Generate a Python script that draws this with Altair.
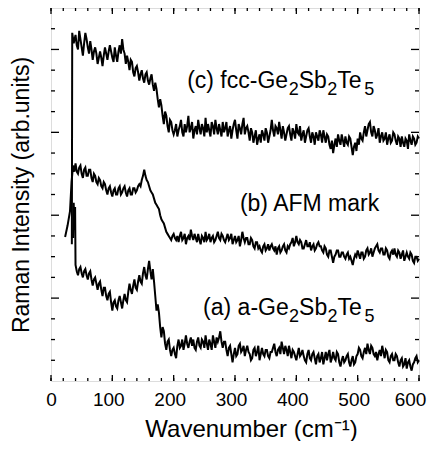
import altair as alt
import pandas as pd

# Shared wavenumber grid (cm-1), 2 cm-1 steps
wn_grid = [40, 42, 44, 46, 48, 50, 52, 54, 56, 58, 60, 62, 64, 66, 68, 70, 72, 74, 76, 78,
           80, 82, 84, 86, 88, 90, 92, 94, 96, 98, 100, 102, 104, 106, 108, 110, 112, 114, 116, 118,
           120, 122, 124, 126, 128, 130, 132, 134, 136, 138, 140, 142, 144, 146, 148, 150, 152, 154, 156, 158,
           160, 162, 164, 166, 168, 170, 172, 174, 176, 178, 180, 182, 184, 186, 188, 190, 192, 194, 196, 198,
           200, 202, 204, 206, 208, 210, 212, 214, 216, 218, 220, 222, 224, 226, 228, 230, 232, 234, 236, 238,
           240, 242, 244, 246, 248, 250, 252, 254, 256, 258, 260, 262, 264, 266, 268, 270, 272, 274, 276, 278,
           280, 282, 284, 286, 288, 290, 292, 294, 296, 298, 300, 302, 304, 306, 308, 310, 312, 314, 316, 318,
           320, 322, 324, 326, 328, 330, 332, 334, 336, 338, 340, 342, 344, 346, 348, 350, 352, 354, 356, 358,
           360, 362, 364, 366, 368, 370, 372, 374, 376, 378, 380, 382, 384, 386, 388, 390, 392, 394, 396, 398,
           400, 402, 404, 406, 408, 410, 412, 414, 416, 418, 420, 422, 424, 426, 428, 430, 432, 434, 436, 438,
           440, 442, 444, 446, 448, 450, 452, 454, 456, 458, 460, 462, 464, 466, 468, 470, 472, 474, 476, 478,
           480, 482, 484, 486, 488, 490, 492, 494, 496, 498, 500, 502, 504, 506, 508, 510, 512, 514, 516, 518,
           520, 522, 524, 526, 528, 530, 532, 534, 536, 538, 540, 542, 544, 546, 548, 550, 552, 554, 556, 558,
           560, 562, 564, 566, 568, 570, 572, 574, 576, 578, 580, 582, 584, 586, 588, 590, 592, 594, 596, 598,
           600]

# (c) fcc-Ge2Sb2Te5 (offset trace, arb. units)
c_head_x = [34, 34.6, 37]
c_head_y = [6.6, 16.8, 16.3]
c_vals = [16.7, 16.2, 16.0, 16.9, 16.5, 16.1, 15.7, 16.3, 16.8, 16.5, 16.1, 15.8, 16.4, 16.0, 15.5, 15.9, 16.1, 15.8, 15.3, 15.6,
          15.9, 15.6, 15.2, 15.7, 16.1, 15.8, 15.5, 15.9, 16.2, 15.9, 15.6, 15.4, 16.1, 15.7, 15.4, 15.9, 16.2, 15.8, 16.5, 16.0,
          15.8, 15.3, 15.7, 15.4, 15.0, 15.5, 15.4, 14.9, 14.7, 15.1, 15.2, 14.9, 14.5, 14.8, 15.0, 14.6, 14.4, 14.8, 14.9, 14.5,
          14.3, 14.6, 14.8, 14.3, 14.0, 14.4, 14.1, 13.6, 13.2, 13.6, 13.3, 12.8, 12.4, 13.0, 12.8, 12.3, 12.0, 12.6, 12.5, 12.1,
          11.9, 12.1, 12.4, 11.8, 12.1, 12.3, 12.6, 12.0, 11.8, 12.4, 12.0, 12.3, 12.8, 12.0, 12.2, 12.5, 11.7, 12.1, 12.3, 11.9,
          12.6, 12.2, 11.9, 12.4, 12.2, 11.8, 12.7, 12.0, 12.4, 12.1, 11.8, 12.5, 12.3, 11.9, 12.6, 12.2, 11.9, 12.4, 12.1, 11.8,
          12.5, 12.0, 12.2, 12.5, 11.8, 12.1, 12.3, 11.7, 12.1, 12.4, 12.6, 12.1, 11.7, 12.4, 12.2, 11.9, 12.4, 12.7, 11.9, 12.2,
          12.3, 12.0, 11.6, 12.2, 12.0, 11.5, 11.8, 12.1, 11.4, 11.7, 11.9, 11.5, 12.1, 11.9, 11.6, 12.2, 12.0, 11.5, 11.8, 12.1,
          12.6, 12.1, 11.8, 12.3, 12.2, 11.9, 12.5, 12.1, 11.7, 12.3, 12.0, 11.6, 11.9, 12.2, 12.3, 11.9, 11.6, 12.2, 12.0, 11.7,
          12.4, 12.0, 11.9, 12.3, 11.6, 11.9, 12.1, 11.5, 11.8, 12.1, 12.2, 11.8, 11.5, 12.0, 11.8, 11.4, 12.0, 11.8, 11.6, 12.1,
          11.9, 11.5, 12.1, 11.8, 11.5, 11.9, 11.8, 11.4, 11.2, 11.6, 11.0, 11.4, 11.7, 11.3, 11.9, 11.6, 11.4, 11.9, 11.6, 11.3,
          11.8, 11.5, 11.4, 11.8, 11.7, 11.3, 10.9, 11.3, 11.5, 11.1, 11.7, 11.4, 12.0, 11.7, 11.6, 12.0, 12.3, 11.8, 12.1, 12.4,
          12.5, 12.0, 11.8, 12.3, 12.1, 11.7, 11.9, 12.2, 11.5, 11.8, 12.0, 11.6, 11.7, 12.0, 11.4, 11.7, 11.9, 11.5, 11.6, 12.0,
          11.9, 11.6, 11.4, 11.8, 11.7, 11.3, 11.8, 11.5, 11.3, 11.7, 11.6, 11.2, 11.9, 11.6, 11.4, 11.8, 11.7, 11.4, 11.5, 11.8,
          11.7]

# (b) AFM mark
b_head_x = [23, 27, 31, 33.5, 36, 38]
b_head_y = [6.95, 7.5, 8.2, 9.6, 10.4, 10.1]
b_vals = [10.5, 10.1, 10.0, 10.3, 10.4, 10.0, 9.8, 10.2, 10.3, 9.9, 9.9, 10.2, 10.2, 9.8, 9.6, 10.0, 9.9, 9.6, 9.5, 9.8,
          9.7, 9.4, 9.3, 9.6, 9.5, 9.2, 9.0, 9.3, 9.4, 9.1, 8.9, 9.2, 9.3, 9.0, 9.0, 9.3, 9.4, 9.0, 9.1, 9.3,
          9.4, 9.1, 8.9, 9.2, 9.3, 9.0, 9.0, 9.3, 9.3, 9.1, 9.2, 9.4, 9.5, 9.4, 9.7, 9.9, 10.2, 9.9, 9.7, 9.6,
          9.4, 9.2, 9.1, 9.0, 8.8, 8.6, 8.5, 8.4, 8.3, 8.0, 7.8, 7.7, 7.6, 7.4, 7.2, 7.1, 7.0, 6.9, 6.8, 7.0,
          7.1, 6.9, 6.8, 7.0, 6.7, 7.0, 7.2, 6.8, 6.9, 7.1, 6.6, 6.9, 7.0, 6.8, 7.3, 7.0, 6.8, 7.1, 6.9, 6.7,
          7.1, 6.8, 6.6, 7.0, 6.9, 6.7, 7.2, 6.8, 6.9, 7.1, 6.7, 6.9, 7.0, 6.7, 6.8, 7.0, 7.2, 6.9, 6.8, 7.1,
          7.0, 6.8, 6.7, 6.9, 7.1, 6.8, 6.9, 7.1, 6.6, 6.8, 7.0, 6.7, 6.8, 7.0, 6.5, 6.8, 7.2, 6.9, 6.7, 6.9,
          6.9, 6.6, 6.6, 6.9, 6.8, 6.5, 6.4, 6.7, 6.7, 6.4, 6.5, 6.3, 6.2, 6.5, 6.6, 6.3, 6.4, 6.6, 6.3, 6.5,
          6.6, 6.4, 6.3, 6.5, 6.1, 6.4, 6.5, 6.2, 6.3, 6.5, 6.6, 6.3, 6.2, 6.5, 6.4, 6.6, 6.7, 6.9, 6.5, 6.7,
          7.0, 6.7, 6.6, 6.8, 6.7, 6.4, 6.4, 6.6, 6.8, 6.5, 6.5, 6.7, 6.3, 6.5, 6.6, 6.3, 6.4, 6.6, 6.7, 6.5,
          6.5, 6.3, 6.2, 6.5, 6.4, 6.1, 6.0, 6.3, 6.3, 6.0, 5.7, 6.0, 6.1, 6.3, 6.3, 6.0, 6.0, 6.2, 6.2, 6.0,
          5.9, 6.1, 6.2, 5.9, 6.0, 5.8, 5.6, 5.9, 6.1, 6.0, 6.3, 6.1, 5.9, 6.2, 6.2, 5.9, 6.0, 6.3, 6.4, 6.1,
          6.2, 6.4, 6.0, 6.2, 6.4, 6.5, 6.6, 6.3, 6.2, 6.4, 6.4, 6.1, 6.1, 6.4, 6.3, 6.0, 5.9, 6.2, 6.3, 6.1,
          6.4, 6.1, 6.0, 6.3, 6.2, 5.9, 6.1, 6.3, 5.8, 6.0, 6.2, 6.0, 5.9, 6.2, 6.1, 5.8, 5.7, 6.0, 6.0, 5.8,
          5.9]

# (a) a-Ge2Sb2Te5
a_head_x = [36, 37, 38.3, 39.3]
a_head_y = [6.9, 8.6, 7.3, 8.4]
a_vals = [5.6, 5.3, 5.1, 5.4, 5.5, 5.2, 5.0, 5.3, 5.4, 5.1, 4.9, 5.2, 5.3, 4.9, 4.6, 4.9, 5.0, 4.7, 4.4, 4.7,
          4.8, 4.4, 4.1, 4.5, 4.5, 4.1, 3.9, 4.2, 4.3, 3.8, 3.4, 3.8, 3.9, 3.6, 3.5, 3.9, 4.1, 3.8, 3.5, 3.9,
          4.2, 3.9, 3.8, 4.3, 4.7, 4.4, 4.2, 4.6, 4.9, 4.5, 4.4, 4.8, 5.1, 4.8, 4.7, 5.2, 5.5, 5.1, 4.9, 5.4,
          5.8, 5.3, 4.9, 5.4, 4.8, 4.1, 3.4, 3.7, 3.3, 2.6, 2.1, 2.6, 2.4, 1.8, 1.5, 1.9, 2.0, 1.5, 1.2, 1.5,
          1.6, 1.3, 1.1, 1.7, 2.0, 1.6, 1.7, 2.0, 1.5, 1.8, 2.2, 1.8, 1.6, 1.9, 2.1, 1.7, 2.0, 1.6, 1.5, 1.9,
          2.1, 1.7, 1.6, 2.0, 1.9, 1.6, 2.2, 1.8, 1.5, 2.0, 1.8, 1.5, 2.2, 1.9, 1.6, 2.1, 1.9, 2.1, 2.4, 1.9,
          1.6, 1.9, 1.9, 1.5, 1.2, 1.6, 1.7, 1.3, 0.9, 1.3, 1.6, 1.2, 1.3, 1.7, 1.8, 1.4, 1.5, 1.7, 1.2, 1.5,
          1.7, 1.4, 1.3, 1.0, 1.1, 1.5, 1.6, 1.2, 1.4, 1.7, 1.0, 1.3, 1.6, 1.3, 1.2, 1.5, 1.5, 1.2, 1.1, 1.4,
          1.4, 1.6, 1.8, 1.4, 1.2, 1.5, 1.6, 1.3, 1.9, 1.6, 1.3, 1.7, 1.5, 1.2, 1.7, 1.4, 1.1, 1.5, 1.4, 1.2,
          1.0, 1.3, 1.6, 1.2, 1.3, 1.5, 1.2, 1.0, 0.9, 1.3, 1.5, 1.1, 1.0, 1.3, 1.4, 1.1, 0.8, 1.2, 1.3, 0.9,
          1.1, 1.4, 0.8, 1.1, 1.4, 1.0, 1.3, 1.5, 0.9, 1.1, 1.4, 1.1, 1.0, 1.4, 1.3, 0.9, 0.7, 1.0, 1.2, 0.9,
          1.0, 1.2, 1.3, 0.9, 0.7, 1.0, 1.2, 0.8, 0.9, 1.2, 1.3, 1.6, 1.5, 1.2, 1.1, 1.4, 1.6, 1.3, 1.8, 1.5,
          1.3, 1.7, 1.6, 1.3, 1.2, 1.4, 1.0, 1.3, 1.5, 1.2, 1.7, 1.4, 1.1, 1.5, 1.4, 1.0, 0.9, 1.2, 1.3, 1.0,
          1.0, 1.3, 1.2, 0.9, 0.7, 1.0, 1.1, 0.7, 0.8, 1.1, 0.6, 0.9, 1.0, 0.7, 0.5, 0.8, 0.9, 1.1, 1.2, 0.9,
          1.0]

x_tick_values = [0, 20, 40, 60, 80, 100, 120, 140, 160, 180, 200, 220, 240, 260,
                 280, 300, 320, 340, 360, 380, 400, 420, 440, 460, 480, 500, 520,
                 540, 560, 580, 600]
x_major = [0, 100, 200, 300, 400, 500, 600]
y_tick_values = [1, 2, 3, 5, 6, 7, 9, 10, 11, 13, 14, 15, 17]
y_major = [4, 8, 12, 16]

rows = []
for name, hx, hy, vals in [("c", c_head_x, c_head_y, c_vals),
                           ("b", b_head_x, b_head_y, b_vals),
                           ("a", a_head_x, a_head_y, a_vals)]:
    xs = hx + wn_grid
    ys = hy + vals
    for i, (xv, yv) in enumerate(zip(xs, ys)):
        rows.append({"series": name, "wn": xv, "I": yv, "k": i})
df = pd.DataFrame(rows)

W, H = 368, 373
FONT = "Liberation Sans"

xscale = alt.Scale(domain=[0, 600], nice=False, zero=False)
yscale = alt.Scale(domain=[0, 18], nice=False, zero=False)

label_offset = {"condition": [{"test": "datum.value == 600", "value": -9},
                              {"test": "datum.value == 0", "value": 0}],
                "value": -4}

lines = alt.Chart(df).mark_line(color="black", strokeWidth=2.0, strokeJoin="miter").encode(
    x=alt.X("wn:Q", scale=xscale,
            axis=alt.Axis(values=x_major, ticks=False, domain=False, grid=False,
                          labelFont=FONT, labelFontSize=19, labelColor="black",
                          labelPadding=9, labelOffset=label_offset,
                          title="Wavenumber (cm⁻¹)", titleFont=FONT,
                          titleFontSize=24, titleFontWeight="normal", titleColor="black",
                          titlePadding=8, titleX=200, labelFlush=False)),
    y=alt.Y("I:Q", scale=yscale,
            axis=alt.Axis(labels=False, ticks=False, domain=False, grid=False,
                          title="Raman Intensity (arb.units)", titleFont=FONT,
                          titleFontSize=23, titleFontWeight="normal", titleColor="black",
                          titlePadding=18)),
    detail="series:N",
    order="k:Q",
)

xt_minor = pd.DataFrame({"v": x_tick_values})
xt_major = pd.DataFrame({"v": x_major})
yt_minor = pd.DataFrame({"v": y_tick_values})
yt_major = pd.DataFrame({"v": y_major})


def xticks(d, length):
    base = alt.Chart(d).mark_rule(color="black", strokeWidth=1.3)
    bottom = base.encode(x=alt.X("v:Q", scale=xscale), y=alt.value(H), y2=alt.value(H - length))
    top = base.encode(x=alt.X("v:Q", scale=xscale), y=alt.value(0), y2=alt.value(length))
    return bottom + top


def yticks(d, length):
    base = alt.Chart(d).mark_rule(color="black", strokeWidth=1.3)
    left = base.encode(y=alt.Y("v:Q", scale=yscale), x=alt.value(0), x2=alt.value(length))
    right = base.encode(y=alt.Y("v:Q", scale=yscale), x=alt.value(W), x2=alt.value(W - length))
    return left + right


def label(x, y, parts):
    """parts: list of (text, dx, is_subscript)"""
    layers = []
    for txt, dx, sub in parts:
        layers.append(alt.Chart(pd.DataFrame({"d": [0]})).mark_text(
            align="left", baseline="alphabetic", font=FONT,
            fontSize=18 if sub else 23, dx=dx, dy=7 if sub else 0, color="black"
        ).encode(x=alt.datum(x, scale=xscale), y=alt.datum(y, scale=yscale),
                 text=alt.value(txt)))
    return alt.layer(*layers)


chart = alt.layer(
    lines,
    xticks(xt_minor, 3), xticks(xt_major, 6),
    yticks(yt_minor, 4), yticks(yt_major, 8),
    label(222, 14.14, [("(c) fcc-Ge", 0, False), ("2", 101.5, True), ("Sb", 111.5, False),
                       ("2", 140.0, True), ("Te", 150.0, False), ("5", 177.0, True)]),
    label(308, 8.2, [("(b) AFM mark", 0, False)]),
    label(248, 3.19, [("(a) a-Ge", 0, False), ("2", 86.0, True), ("Sb", 96.0, False),
                      ("2", 124.5, True), ("Te", 134.5, False), ("5", 161.5, True)]),
).properties(
    width=W, height=H,
    autosize=alt.AutoSizeParams(type="none"),
    padding={"left": 43, "top": 0, "right": 8, "bottom": 60},
).configure_view(stroke="black", strokeWidth=2).configure(background="white")

chart.save("out.html", embed_options={"renderer": "svg", "actions": False})
